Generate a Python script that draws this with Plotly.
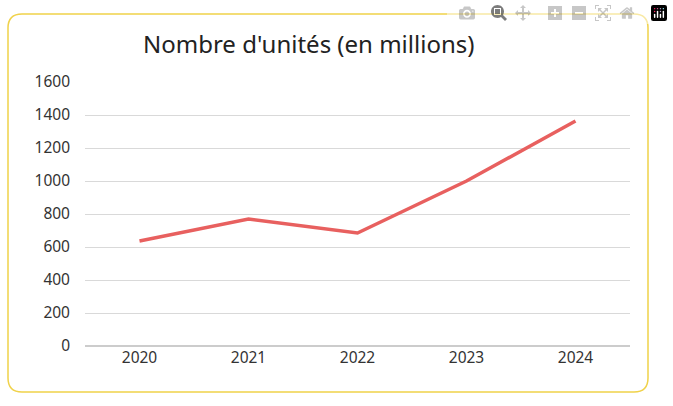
import plotly.graph_objects as go

years = ["2020", "2021", "2022", "2023", "2024"]
units = [636, 770, 685, 1000, 1364]
y_ticks = [0, 200, 400, 600, 800, 1000, 1200, 1400, 1600]

W, H = 673, 406
ml, mr, mt, mb = 85, 43, 82, 60
pw, ph = W - ml - mr, H - mt - mb


def px(x):
    return (x - ml) / pw


def py(y):
    return (H - mb - y) / ph


# rounded yellow frame, corners converted from pixels
x0, x1, y0, y1 = px(8), px(648), py(392), py(14)
rx, ry = 14 / pw, 14 / ph
frame = (f"M{x0+rx},{y0} L{x1-rx},{y0} Q{x1},{y0} {x1},{y0+ry} "
         f"L{x1},{y1-ry} Q{x1},{y1} {x1-rx},{y1} L{x0+rx},{y1} "
         f"Q{x0},{y1} {x0},{y1-ry} L{x0},{y0+ry} Q{x0},{y0} {x0+rx},{y0} Z")

fig = go.Figure()
fig.add_trace(go.Scatter(x=years, y=units, mode='lines',
                         line=dict(color='#e8605f', width=3.5)))

fig.update_layout(
    width=W, height=H,
    margin=dict(l=ml, r=mr, t=mt, b=mb),
    paper_bgcolor='white', plot_bgcolor='white',
    showlegend=False,
    font=dict(family='Noto Sans', color='#333333'),
    title=dict(text="Nombre d'unités (en millions)", x=px(335), xanchor='center',
               y=1 - 45 / H, yanchor='middle', font=dict(size=24, color='#222222')),
    shapes=[dict(type='path', path=frame, xref='paper', yref='paper',
                 line=dict(color='#f0d24a', width=1.5), layer='below')],
)
fig.update_xaxes(type='category', showgrid=False, ticks='', showline=False,
                 tickfont=dict(size=15.5), range=[-0.5, 4.5])
fig.update_yaxes(range=[0, 1600], tickvals=y_ticks, gridcolor='#d9d9d9',
                 zeroline=True, zerolinecolor='#cccccc', tickfont=dict(size=15.5),
                 ticklabelstandoff=14)

# drop the page's default body margin so the chart sits at 0,0
fig.write_html("out.html", post_script="document.body.style.margin='0';")
